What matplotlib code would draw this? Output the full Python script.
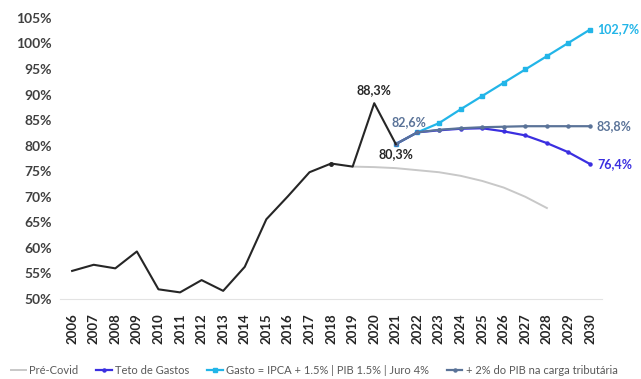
import numpy as np
import matplotlib.pyplot as plt

plt.rcParams['font.family'] = ['Lato', 'DejaVu Sans']

anos = list(range(2006, 2031))

# Dívida bruta / PIB (%) - série histórica 2006-2021
historico = [55.5, 56.7, 56.0, 59.3, 51.9, 51.3, 53.7, 51.6, 56.3, 65.6,
             70.1, 74.8, 76.5, 75.9, 88.3, 80.3]

# Projeções 2019-2028 (pré-covid) e 2021-2030 (cenários)
pre_covid = [75.9, 75.8, 75.6, 75.2, 74.8, 74.1, 73.1, 71.8, 70.0, 67.8]
teto_gastos = [80.3, 82.6, 83.0, 83.3, 83.4, 82.8, 82.0, 80.5, 78.7, 76.4]
gasto_ipca = [80.3, 82.6, 84.4, 87.1, 89.7, 92.3, 94.9, 97.5, 100.1, 102.7]
carga_trib = [80.3, 82.6, 83.1, 83.4, 83.6, 83.7, 83.8, 83.8, 83.8, 83.8]

cor_preto = '#262626'
cor_cinza = '#c8c8c8'
cor_teto = '#3b2fe0'
cor_ipca = '#22b5e8'
cor_carga = '#5a7398'

fig = plt.figure(figsize=(6.41, 3.79), dpi=100)
ax = fig.add_axes([0.094, 0.211, 0.845, 0.742])

x_hist = np.arange(len(historico))
x_pre = np.arange(13, 13 + len(pre_covid))
x_proj = np.arange(15, 15 + len(teto_gastos))

ax.plot(x_pre, pre_covid, color=cor_cinza, lw=1.4, label='Pré-Covid', zorder=2)
ax.plot(x_proj, gasto_ipca, color=cor_ipca, lw=1.6, marker='s', ms=3,
        label='Gasto = IPCA + 1.5% | PIB 1.5% | Juro 4%', zorder=3)
ax.plot(x_proj, teto_gastos, color=cor_teto, lw=1.6, marker='o', ms=2.2,
        label='Teto de Gastos', zorder=4)
ax.plot(x_proj, carga_trib, color=cor_carga, lw=1.6, marker='o', ms=2.2,
        label='+ 2% do PIB na carga tributária', zorder=5)
ax.plot(x_hist, historico, color=cor_preto, lw=1.5, marker='o', ms=2.5,
        markevery=[12], zorder=6)

# rótulos de valor
rot = dict(fontsize=9, fontweight='bold')


def fmt(v):
    return f"{v:.1f}%".replace('.', ',')


ax.annotate(fmt(historico[14]), (14, historico[14]),
            xytext=(0, 5), textcoords='offset points', ha='center', va='bottom',
            color=cor_preto, **rot)
ax.annotate(fmt(historico[15]), (15, historico[15]),
            xytext=(0, -3), textcoords='offset points', ha='center', va='top',
            color=cor_preto, **rot)
ax.annotate(fmt(carga_trib[1]), (16, carga_trib[1]),
            xytext=(-6, 3), textcoords='offset points', ha='center', va='bottom',
            color=cor_carga, **rot)
for serie, cor in [(gasto_ipca, cor_ipca), (carga_trib, cor_carga),
                   (teto_gastos, cor_teto)]:
    ax.annotate(fmt(serie[-1]), (24, serie[-1]),
                xytext=(5, 0), textcoords='offset points', ha='left',
                va='center', color=cor, **rot)

ax.set_xlim(-0.55, 24.55)
ax.set_ylim(50, 105)
ax.set_xticks(range(len(anos)))
ax.set_xticklabels([str(a) for a in anos], rotation=90, fontsize=9.5,
                   fontweight='bold', color='#262626')
ax.set_yticks(range(50, 106, 5))
ax.set_yticklabels([f"{v}%" for v in range(50, 106, 5)], fontsize=10,
                   fontweight='bold', color='#404040')
ax.tick_params(length=0, pad=6)
ax.tick_params(axis='x', pad=10)

for lado in ['top', 'right', 'left']:
    ax.spines[lado].set_visible(False)
ax.spines['bottom'].set_color('#e3e3e3')

handles, labels = ax.get_legend_handles_labels()
ordem = [0, 2, 1, 3]
leg = fig.legend([handles[i] for i in ordem], [labels[i] for i in ordem],
                 loc='center', bbox_to_anchor=(0.49, 0.022), ncol=4,
                 frameon=False, fontsize=8, handlelength=1.4,
                 handletextpad=0.3, columnspacing=1.6)
for t in leg.get_texts():
    t.set_color('#595959')

fig.savefig('out.png', dpi=100)
